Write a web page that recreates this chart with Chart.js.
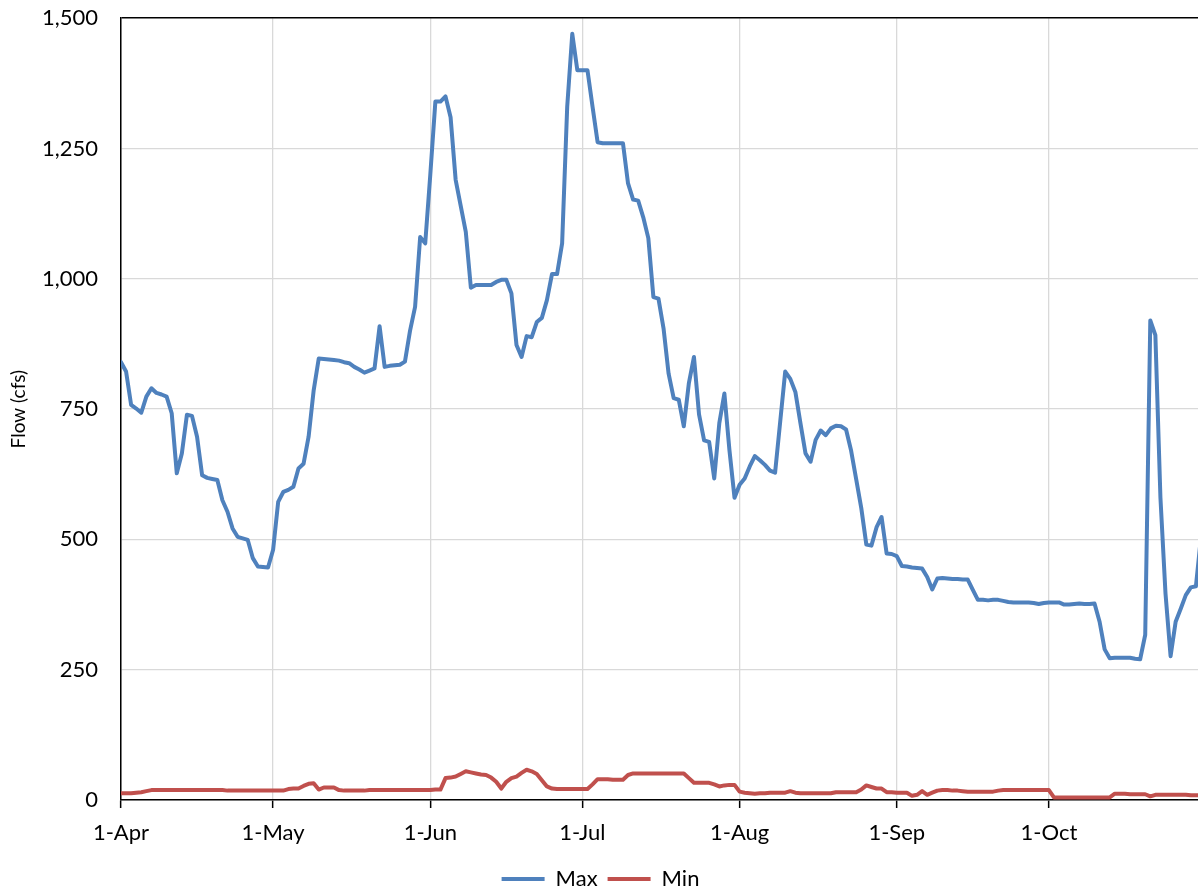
<!DOCTYPE html>
<html><head><meta charset="utf-8">
<script src="https://cdn.jsdelivr.net/npm/chart.js@4.4.1/dist/chart.umd.min.js"></script>
<style>
html,body{margin:0;padding:0;background:#fff;overflow:hidden;width:1198px;height:892px;}
#wrap{position:absolute;left:0;top:0;width:1212px;height:900px;}
</style></head><body>
<div id="wrap"><canvas id="c" width="1212" height="900"></canvas></div>
<script>
// Day index 0 = 1-Apr ... 213 = 31-Oct
const monthTickDays = [0, 30, 61, 91, 122, 153, 183];
const monthTickLabels = ['1-Apr', '1-May', '1-Jun', '1-Jul', '1-Aug', '1-Sep', '1-Oct'];
const yTickValues = [0, 250, 500, 750, 1000, 1250, 1500];
const seriesNames = ['Max', 'Min'];

const maxFlow = [
  // Apr (0-29)
  840, 822, 758, 751, 743, 774, 790, 781, 778, 774,
  742, 627, 665, 739, 737, 697, 623, 618, 616, 614,
  575, 553, 521, 505, 502, 499, 464, 448, 447, 446,
  // May (30-60)
  480, 572, 591, 595, 601, 636, 645, 697, 786, 847,
  846, 845, 844, 843, 840, 838, 831, 826, 820, 824,
  828, 909, 831, 833, 834, 835, 841, 900, 946, 1080, 1068,
  // Jun (61-90)
  1200, 1340, 1340, 1350, 1310, 1190, 1140, 1090, 983, 988,
  988, 988, 988, 994, 998, 998, 972, 873, 850, 890,
  888, 917, 925, 959, 1009, 1009, 1068, 1330, 1470, 1400,
  // Jul (91-121)
  1400, 1400, 1330, 1262, 1260, 1260, 1260, 1260, 1260, 1183,
  1152, 1150, 1118, 1078, 965, 962, 905, 818, 771, 768,
  717, 800, 850, 740, 690, 687, 617, 723, 780, 671, 580,
  // Aug (122-152)
  605, 617, 640, 660, 652, 643, 632, 628, 725, 822,
  808, 783, 723, 665, 649, 691, 709, 700, 713, 718,
  717, 711, 670, 615, 560, 490, 488, 523, 543, 473, 472,
  // Sep (153-182)
  468, 449, 448, 446, 445, 444, 428, 404, 425, 426,
  425, 424, 424, 423, 423, 403, 384, 384, 383, 384,
  384, 382, 380, 379, 379, 379, 379, 378, 376, 378,
  // Oct (183-213)
  379, 379, 379, 375, 375, 376, 377, 376, 376, 377,
  342, 289, 272, 273, 273, 273, 273, 271, 270, 317,
  920, 892, 580, 396, 276, 342, 367, 393, 408, 410, 505
];

const minFlow = [
  // Apr (0-29)
  13, 13, 13, 14, 15, 17, 19, 19, 19, 19,
  19, 19, 19, 19, 19, 19, 19, 19, 19, 19,
  19, 18, 18, 18, 18, 18, 18, 18, 18, 18,
  // May (30-60)
  18, 18, 18, 21, 22, 22, 27, 31, 32, 20,
  24, 24, 24, 19, 18, 18, 18, 18, 18, 19,
  19, 19, 19, 19, 19, 19, 19, 19, 19, 19, 19,
  // Jun (61-90)
  19, 20, 20, 42, 43, 45, 50, 55, 53, 51,
  49, 48, 43, 35, 22, 35, 42, 45, 52, 58,
  55, 50, 38, 26, 22, 21, 21, 21, 21, 21,
  // Jul (91-121)
  21, 21, 30, 40, 40, 40, 39, 39, 39, 48,
  51, 51, 51, 51, 51, 51, 51, 51, 51, 51,
  51, 42, 33, 33, 33, 33, 30, 26, 28, 29, 29,
  // Aug (122-152)
  16, 14, 13, 12, 13, 13, 14, 14, 14, 14,
  17, 14, 13, 13, 13, 13, 13, 13, 13, 15,
  15, 15, 15, 15, 20, 28, 25, 22, 22, 15, 15,
  // Sep (153-182)
  14, 14, 14, 8, 10, 17, 10, 14, 18, 19,
  19, 18, 18, 17, 16, 16, 16, 16, 16, 16,
  18, 19, 19, 19, 19, 19, 19, 19, 19, 19,
  // Oct (183-213)
  19, 5, 5, 5, 5, 5, 5, 5, 5, 5,
  5, 5, 5, 12, 12, 12, 11, 11, 11, 11,
  7, 10, 10, 10, 10, 10, 10, 10, 9, 9, 9
];

const seriesColors = ['#4F81BD', '#C0504D'];
const FONT = 'Lato, "Liberation Sans", sans-serif';

const toPoints = arr => arr.map((v, i) => ({x: i, y: v}));

new Chart(document.getElementById('c'), {
  type: 'line',
  data: {
    datasets: [
      {label: seriesNames[0], data: toPoints(maxFlow), borderColor: seriesColors[0], backgroundColor: seriesColors[0],
       borderWidth: 4, pointRadius: 0, tension: 0, borderJoinStyle: 'round', borderCapStyle: 'round'},
      {label: seriesNames[1], data: toPoints(minFlow), borderColor: seriesColors[1], backgroundColor: seriesColors[1],
       borderWidth: 4, pointRadius: 0, tension: 0, borderJoinStyle: 'round', borderCapStyle: 'round'}
    ]
  },
  options: {
    responsive: false,
    animation: false,
    devicePixelRatio: 1,
    layout: {padding: {top: 0, right: 11, left: 0, bottom: 0}},
    plugins: {
      tooltip: {enabled: false},
      legend: {
        position: 'bottom',
        labels: {
          font: {family: FONT, size: 22},
          color: '#000',
          boxWidth: 43,
          boxHeight: 4,
          padding: 10,
          generateLabels: (chart) => chart.data.datasets.map((ds, i) => ({
            text: ds.label, fillStyle: ds.borderColor, strokeStyle: ds.borderColor,
            lineWidth: 0, hidden: false, datasetIndex: i, fontColor: '#000'
          }))
        }
      }
    },
    scales: {
      x: {
        type: 'linear',
        min: 0,
        max: 213,
        afterBuildTicks: (scale) => { scale.ticks = monthTickDays.map(v => ({value: v})); },
        afterFit: (scale) => { scale.height = 58; },
        ticks: {
          autoSkip: false, maxRotation: 0, padding: 12,
          font: {family: FONT, size: 22}, color: '#000',
          callback: (value) => {
            const k = monthTickDays.indexOf(value);
            return k >= 0 ? monthTickLabels[k] : '';
          }
        },
        grid: {color: '#d9d9d9', lineWidth: 1.3, tickColor: '#000', tickLength: 8, tickWidth: 1.5},
        border: {color: '#000', width: 1.5}
      },
      y: {
        min: 0,
        max: 1500,
        afterBuildTicks: (scale) => { scale.ticks = yTickValues.map(v => ({value: v})); },
        afterFit: (scale) => { scale.width = 121; },
        ticks: {
          padding: 5,
          font: {family: FONT, size: 22}, color: '#000',
          callback: (value) => value.toLocaleString('en-US')
        },
        grid: {
          color: (ctx) => (ctx.tick && ctx.tick.value === 1500) ? '#000' : '#d9d9d9',
          lineWidth: (ctx) => (ctx.tick && ctx.tick.value === 1500) ? 1.5 : 1.3,
          drawTicks: true,
          tickLength: 18,
          tickColor: 'rgba(0,0,0,0)'
        },
        border: {color: '#000', width: 1.5},
        title: {display: true, text: 'Flow (cfs)', color: '#000',
                font: {family: FONT, size: 19}, padding: {top: 7, bottom: 0}}
      }
    }
  }
});
</script>
</body></html>
